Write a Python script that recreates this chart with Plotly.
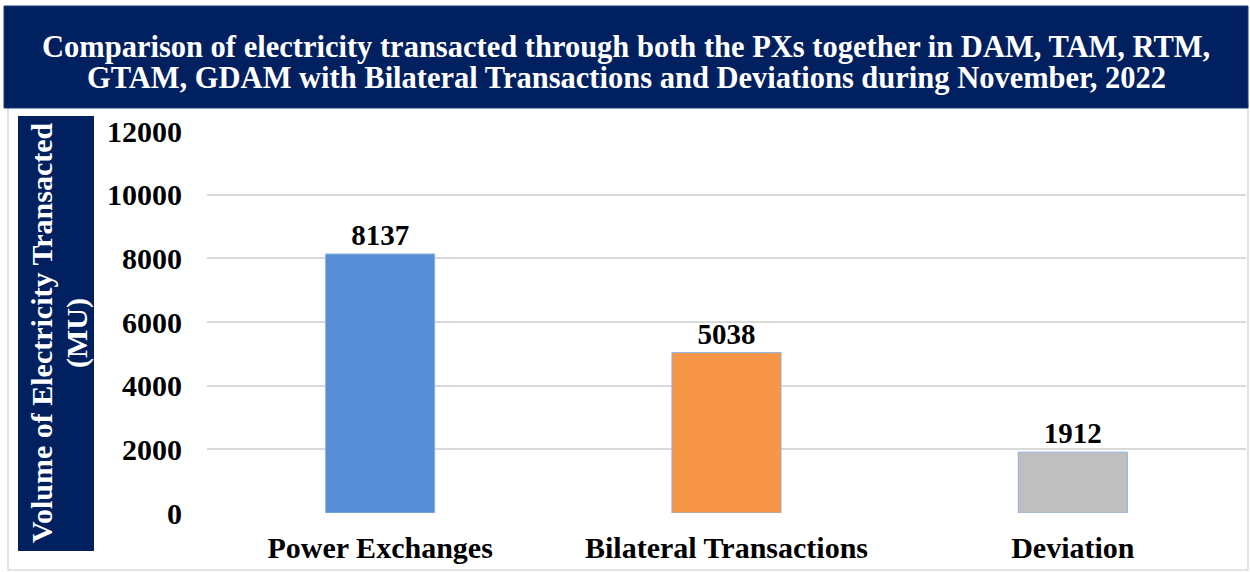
import plotly.graph_objects as go

categories = ["Power Exchanges", "Bilateral Transactions", "Deviation"]
values = [8137, 5038, 1912]
bar_colors = ["#558ED5", "#F79646", "#BFBFBF"]
y_ticks = [0, 2000, 4000, 6000, 8000, 10000, 12000]
title_lines = [
    "Comparison of electricity transacted through both the PXs together in DAM, TAM, RTM,",
    "GTAM, GDAM with Bilateral Transactions and Deviations during November, 2022",
]
y_title_lines = ["Volume of Electricity Transacted", "(MU)"]

W, H = 1250, 572
L, R, T, B = 207, 4, 131, 59
pw, ph = W - L - R, H - T - B

def px(x):
    return (x - L) / pw

def py(y):
    return (H - B - y) / ph

FONT = "Liberation Serif"
NAVY = "#002060"

fig = go.Figure()
fig.add_trace(go.Bar(
    x=categories, y=values,
    marker=dict(color=bar_colors, line=dict(color="#8EB4E3", width=1)),
    width=0.315,
    text=[f"<b>{v}</b>" for v in values], textposition="outside",
    textfont=dict(family=FONT, size=29, color="black"),
    cliponaxis=False,
))

shapes = [
    dict(type="rect", xref="paper", yref="paper", x0=px(8), x1=px(1248), y0=py(570), y1=py(100),
         line=dict(color="#D9D9D9", width=1.5), fillcolor="rgba(0,0,0,0)", layer="below"),
    dict(type="rect", xref="paper", yref="paper", x0=px(4), x1=px(1248), y0=py(108), y1=py(6),
         line=dict(color="#1F3A7A", width=1), fillcolor=NAVY, layer="above"),
    dict(type="rect", xref="paper", yref="paper", x0=px(18), x1=px(94), y0=py(551), y1=py(116),
         line=dict(width=0), fillcolor=NAVY, layer="above"),
]

annotations = []
for i, line in enumerate(title_lines):
    annotations.append(dict(
        xref="paper", yref="paper", x=px(626), y=py(47 + 31 * i), xanchor="center", yanchor="middle",
        text=f"<b>{line}</b>", showarrow=False,
        font=dict(family=FONT, size=30.5, color="white")))
for i, line in enumerate(y_title_lines):
    annotations.append(dict(
        xref="paper", yref="paper", x=px(41 + 36 * i), y=py(333), xanchor="center", yanchor="middle",
        text=f"<b>{line}</b>", textangle=-90, showarrow=False,
        font=dict(family=FONT, size=30, color="white")))

fig.update_layout(
    width=W, height=H, autosize=False,
    margin=dict(l=L, r=R, t=T, b=B, pad=0),
    paper_bgcolor="white", plot_bgcolor="white",
    showlegend=False,
    shapes=shapes, annotations=annotations,
    font=dict(family=FONT, color="black"),
)
fig.update_yaxes(
    range=[0, 12000], tickvals=y_ticks, ticktext=[f"<b>{v}</b>" for v in y_ticks],
    showgrid=True, gridcolor="#D9D9D9", gridwidth=1.5, zeroline=False,
    showline=False, ticks="", ticklabelstandoff=24,
    tickfont=dict(family=FONT, size=30, color="black"),
)
fig.update_xaxes(
    tickvals=categories, ticktext=[f"<b>{c}</b>" for c in categories],
    showline=False, ticks="", ticklabelstandoff=14,
    tickfont=dict(family=FONT, size=30, color="black"),
)

fig.write_html(
    "out.html",
    config={"displayModeBar": False},
    post_script="document.body.style.margin='0px';document.body.style.overflow='hidden';",
)
